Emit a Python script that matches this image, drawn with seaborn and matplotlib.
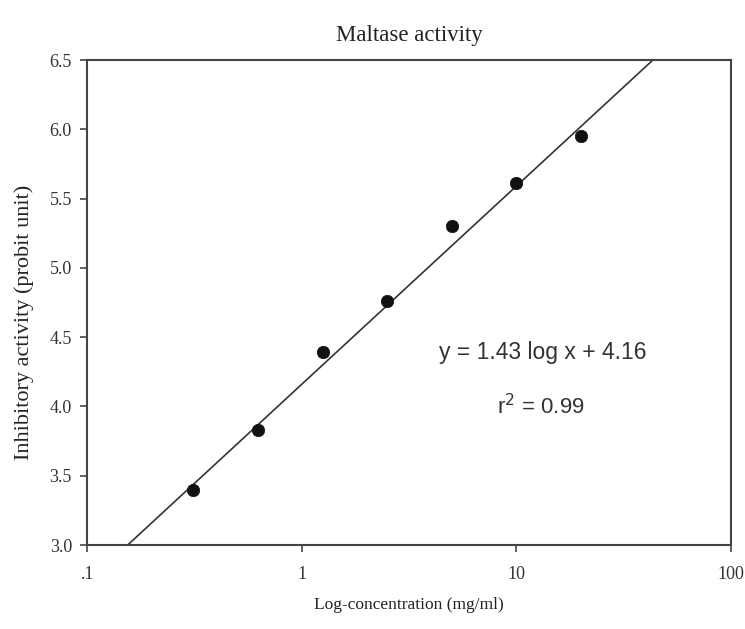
import numpy as np
import pandas as pd
import matplotlib
matplotlib.use('Agg')
import matplotlib.pyplot as plt
import seaborn as sns

sns.set_style('white')
plt.rcParams['font.family'] = ['Liberation Serif', 'DejaVu Serif']

# data
conc_mg_ml = [0.3125, 0.625, 1.25, 2.5, 5, 10, 20]
probit = [3.40, 3.83, 4.39, 4.76, 5.30, 5.61, 5.95]

# fitted line, as printed on the chart
slope = 1.43
intercept = 4.16
r2 = 0.99

x_ticks = [0.1, 1, 10, 100]
x_tick_labels = ['.1', '1', '10', '100']
y_ticks = [3.0, 3.5, 4.0, 4.5, 5.0, 5.5, 6.0, 6.5]

df = pd.DataFrame({'conc': conc_mg_ml, 'probit': probit})

fig = plt.figure(figsize=(7.45, 6.29), dpi=100)
ax = fig.add_axes([0.117, 0.1335, 0.864, 0.771])
ax.set_xscale('log')

grid = np.geomspace(0.1, 100, 200)
fit = pd.DataFrame({'conc': grid, 'probit': slope * np.log10(grid) + intercept})
sns.lineplot(data=fit, x='conc', y='probit', ax=ax, color='#333333', linewidth=1.2)
sns.scatterplot(data=df, x='conc', y='probit', ax=ax, color='#111111', s=80,
                edgecolor='#111111', linewidth=0.5, zorder=3)

ax.set_xlim(0.1, 100)
ax.set_ylim(3.0, 6.5)
ax.set_xticks(x_ticks)
ax.set_xticklabels(x_tick_labels)
ax.xaxis.set_minor_locator(matplotlib.ticker.NullLocator())
ax.set_yticks(y_ticks)
ax.set_yticklabels([f'{v:.1f}' for v in y_ticks])
ax.tick_params(axis='both', direction='out', length=5, width=1.2, color='#444444',
               labelsize=13, labelcolor='#333333', bottom=True, left=True)
ax.tick_params(axis='x', pad=10)
ax.tick_params(axis='y', pad=6)

for sp in ax.spines.values():
    sp.set_color('#444444')
    sp.set_linewidth(1.5)

ax.set_xlabel('Log-concentration (mg/ml)', fontsize=12.5, color='#222222', labelpad=10)
ax.set_ylabel('Inhibitory activity (probit unit)', fontsize=16, color='#222222')
ax.yaxis.set_label_coords(-0.082, 0.46)
ax.set_title('Maltase activity', fontsize=16.5, color='#222222', pad=14)

ax.text(13.3, 4.39, f'y = {slope:.2f} log x + {intercept:.2f}', family='Liberation Sans',
        fontsize=16.5, color='#333333', ha='center', va='center')
ax.text(13.0, 4.0, f'r$^2$ = {r2:.2f}', family='Liberation Sans',
        fontsize=16, color='#333333', ha='center', va='center')

fig.savefig('out.png', dpi=100)
